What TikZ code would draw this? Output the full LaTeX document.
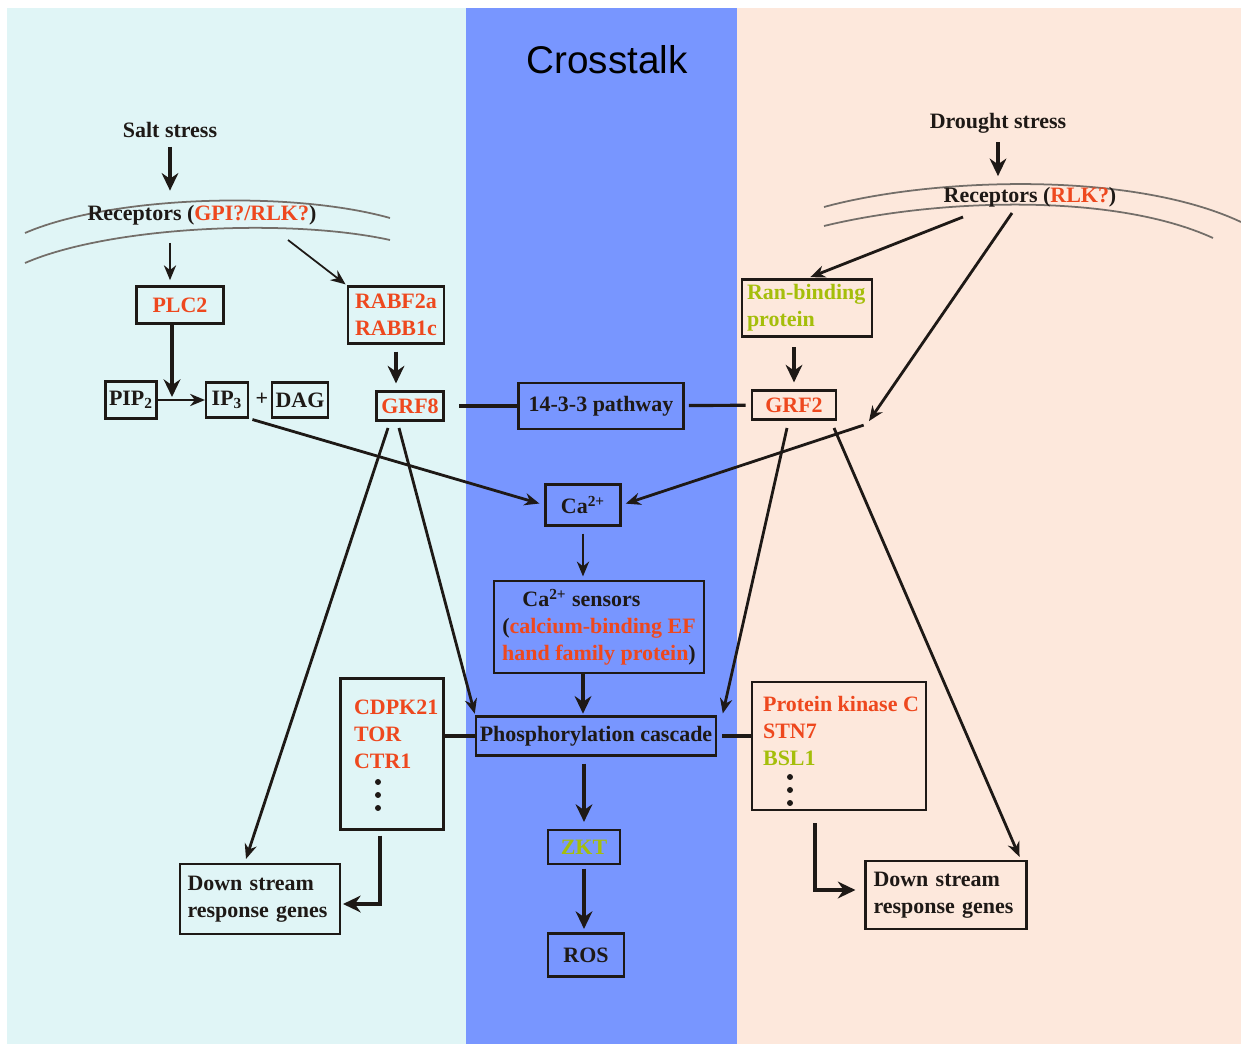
\documentclass[tikz,border=0pt]{standalone}
\usepackage{fontspec}
\setmainfont{Liberation Serif}
\newfontfamily\headfont{Liberation Sans}
\usetikzlibrary{calc,positioning,arrows.meta}
\definecolor{saltbg}{RGB}{224,245,246}
\definecolor{crossbg}{RGB}{120,150,255}
\definecolor{droughtbg}{RGB}{253,232,220}
\definecolor{gene}{RGB}{238,72,30}
\definecolor{lime}{RGB}{165,190,10}
\definecolor{ink}{RGB}{30,25,22}
\definecolor{membrane}{RGB}{115,110,105}
\tikzset{
	->,
	>={Stealth[length=8.5pt,width=7pt]},
	every node/.style={font=\fontsize{12.5}{15.3}\selectfont\bfseries, text=ink, inner sep=1pt},
	box/.style={draw=ink, line width=1.2pt, inner sep=2pt},
	thin arrow/.style={draw=ink, line width=1pt},
	fat arrow/.style={draw=ink, line width=1.9pt, -{Stealth[length=10pt,width=9.5pt]}},
	link/.style={draw=ink, line width=1.6pt},
	plain/.style={-, draw=ink, line width=1.8pt},
	cell wall/.style={-, draw=membrane, line width=1pt},
}

\begin{document}
\begin{tikzpicture}[x=0.02cm,y=-0.02cm]
		\useasboundingbox (0,0) rectangle (1241,1044);
		% three panels
		\fill[saltbg] (7,8) rectangle (466,1044);
		\fill[crossbg] (466,8) rectangle (737,1044);
		\fill[droughtbg] (737,8) rectangle (1241,1044);
		\node[font=\headfont\fontsize{22}{26}\selectfont, text=black] (title) at (607,60) {Crosstalk};

		% salt side
		\draw[cell wall] (25,233) .. controls (110,196) and (290,190) .. (390,218);
		\draw[cell wall] (25,263) .. controls (110,226) and (290,218) .. (390,240);
		\node (salt) at (170,130) {Salt stress};
		\node (recL) at (202,215) {Receptors (\textcolor{gene}{GPI?/RLK?})};
		\node[box, minimum width=1.74cm, minimum height=0.74cm] (plc) at (180,305) {\textcolor{gene}{PLC2}};
		\node[box, minimum width=1.92cm, minimum height=1.14cm, align=center] (rab) at (396,315) {\textcolor{gene}{RABF2a}\\\textcolor{gene}{RABB1c}};
		\node[box, minimum width=1.02cm, minimum height=0.74cm] (pip) at (131,400) {PIP\textsubscript{2}};
		\node[box, minimum width=0.84cm, minimum height=0.7cm] (ipthree) at (227,400) {IP\textsubscript{3}};
		\node (plus) at (262,399) {+};
		\node[box, minimum width=1.08cm, minimum height=0.7cm] (dag) at (300,400) {DAG};
		\node[box, minimum width=1.34cm, minimum height=0.58cm] (grfeight) at (410,406) {\textcolor{gene}{GRF8}};
		\coordinate (pipjoin) at (172,397);
		\coordinate (recLout) at (288,240);
		\coordinate (grfeightA) at (388,428);
		\coordinate (grfeightB) at (399,428);

		% crosstalk column
		\node[box, minimum width=3.3cm, minimum height=0.92cm] (pathway) at (601,406) {14-3-3 pathway};
		\node[box, minimum width=1.5cm, minimum height=0.82cm] (ca) at (583,505) {Ca\textsuperscript{2+}};
		\node[box, minimum width=4.2cm, minimum height=1.84cm, align=center] (sensors) at (599,627) {Ca\textsuperscript{2+} sensors\hspace*{1.6em}\\(\textcolor{gene}{calcium-binding EF}\\\textcolor{gene}{hand family protein})};
		\node[box, minimum width=4.78cm, minimum height=0.78cm] (phos) at (596,736) {Phosphorylation cascade};
		\node[box, minimum width=1.44cm, minimum height=0.68cm] (zkt) at (584,847) {\textcolor{lime}{ZKT}};
		\node[box, minimum width=1.52cm, minimum height=0.86cm] (ros) at (586,955) {ROS};

		% drought side
		\draw[cell wall] (824,207) .. controls (930,178) and (1130,170) .. (1241,222);
		\draw[cell wall] (824,226) .. controls (930,200) and (1110,191) .. (1213,238);
		\node (drought) at (998,123) {Drought stress};
		\node (recR) at (1030,197) {Receptors (\textcolor{gene}{RLK?})};
		\node[box, minimum width=2.6cm, minimum height=1.14cm, text width=2.4cm, inner xsep=0.1cm, align=left] (ran) at (807,308) {\textcolor{lime}{Ran-binding}\\\textcolor{lime}{protein}};
		\node[box, minimum width=1.68cm, minimum height=0.58cm] (grftwo) at (794,405) {\textcolor{gene}{GRF2}};
		\coordinate (recRa) at (963,217);
		\coordinate (recRb) at (1012,213);
		\coordinate (relay) at (867,424);
		\coordinate (grftwoA) at (787,428);
		\coordinate (grftwoB) at (834,428);

		% kinase lists and genes
		\node[box, minimum width=2.06cm, minimum height=3.02cm] (cdpk) at (392,754) {};
		\node[anchor=north west, align=left] (cdpklist) at (352,698) {\textcolor{gene}{CDPK21}\\\textcolor{gene}{TOR}\\\textcolor{gene}{CTR1}};
		\foreach \y in {782,795,808} \fill[ink] (378,\y) circle (1.7pt);
		\node[box, minimum width=3.48cm, minimum height=2.56cm] (pkc) at (839,746) {};
		\node[anchor=north west, align=left] (pkclist) at (761,694) {\textcolor{gene}{Protein kinase C}\\\textcolor{gene}{STN7}\\\textcolor{lime}{BSL1}};
		\foreach \y in {777,790,803} \fill[ink] (790,\y) circle (1.7pt);
		\node[box, minimum width=3.2cm, minimum height=1.4cm, text width=2.9cm, inner xsep=0.15cm, align=left] (downL) at (260,899) {Down stream\\response genes};
		\node[box, minimum width=3.22cm, minimum height=1.36cm, text width=2.9cm, inner xsep=0.16cm, align=left] (downR) at (946,895) {Down stream\\response genes};

		% connectors
		\draw[fat arrow, shorten <=4pt, shorten >=7pt] (salt.south) -- (salt.south |- recL.north);
		\draw[thin arrow, shorten <=9pt, shorten >=3pt] (recL.south -| salt) -- (plc.north -| salt);
		\draw[thin arrow, shorten >=1pt] (recLout) -- (rab.north west);
		\draw[fat arrow] (plc.south -| pipjoin) -- (pipjoin);
		\draw[thin arrow] (pip) -- (ipthree);
		\draw[fat arrow, shorten <=4pt, shorten >=4pt] (rab.south) -- (rab.south |- grfeight.north);
		\draw[plain, shorten <=8.5pt] (grfeight) -- (pathway);
		\draw[plain, shorten <=2.5pt, shorten >=3pt] (pathway) -- (grftwo);
		\draw[link, shorten <=2pt, shorten >=3pt] (ipthree.south east) -- (ca.west);
		\draw[fat arrow, shorten <=4pt, shorten >=5pt] (drought.south) -- (drought.south |- recR.north);
		\draw[link, shorten >=2pt] (recRa) -- (ran.north);
		\draw[link, shorten >=2pt] (recRb) -- (relay);
		\draw[link, shorten <=2pt, shorten >=2.5pt] (relay) -- (ca.east);
		\draw[fat arrow, shorten <=5.5pt, shorten >=4pt] (ran.south -| grftwo) -- (grftwo.north);
		\draw[thin arrow, shorten <=4pt, shorten >=2pt] (ca.south) -- (ca.south |- sensors.north);
		\draw[fat arrow, shorten >=1pt] (sensors.south -| ca) -- (phos.north -| ca);
		\draw[link] (grfeightA) -- ($(downL.north)+(-14,-4)$);
		\draw[link, shorten >=1pt] (grfeightB) -- (phos.north west);
		\draw[link] (grftwoA) -- ($(phos.north east)+(6,-2)$);
		\draw[link] (grftwoB) -- ($(downR.north east)+(-8,-3)$);
		\draw[plain] (cdpk.east |- phos) -- (phos.west);
		\draw[plain, shorten <=3pt] (phos.east) -- (pkc.west |- phos);
		\draw[fat arrow] ($(cdpk.south)+(-12,5)$) |- ($(downL.east)+(2,5)$);
		\draw[fat arrow] ($(pkc.south)+(-24,12)$) |- ($(downR.west)+(-9,-5)$);
		\draw[fat arrow, shorten <=4pt, shorten >=4pt] (phos.south -| zkt) -- (zkt.north);
		\draw[fat arrow, shorten <=2pt, shorten >=2pt] (zkt.south) -- (zkt.south |- ros.north);
	\end{tikzpicture}
\end{document}
